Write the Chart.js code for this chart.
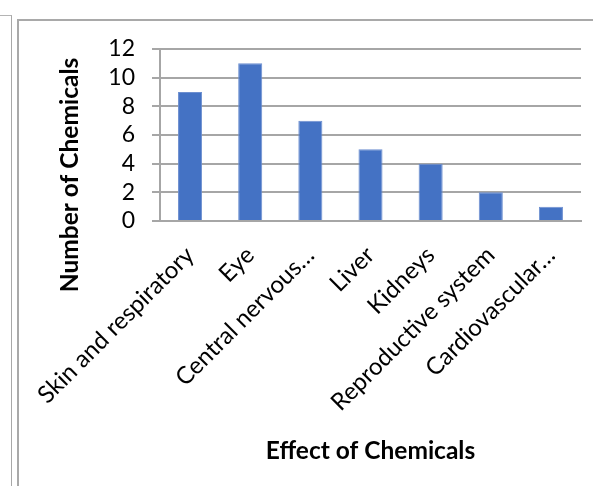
<!DOCTYPE html>
<html>
<head>
<meta charset="utf-8">
<script src="https://cdn.jsdelivr.net/npm/chart.js@4/dist/chart.umd.min.js"></script>
<style>
  html, body { margin: 0; padding: 0; background: #fff; }
  body { width: 593px; height: 486px; position: relative; overflow: hidden; }
  .side-frame { position: absolute; left: -1px; top: 15px; width: 12px; height: 480px;
                border-top: 1px solid #b4b4b4; border-right: 1px solid #a8a8a8; }
  .chart-frame { position: absolute; left: 17px; top: 19px; width: 600px; height: 480px;
                 border-top: 2px solid #a9a9a9; border-left: 2px solid #a9a9a9; }
  #wrap { position: absolute; left: 0; top: 0; width: 593px; height: 486px; }
</style>
</head>
<body>
<div class="side-frame"></div>
<div class="chart-frame"></div>
<div id="wrap"><canvas id="chart"></canvas></div>
<script>
// Effects reported for the chemicals, and how many chemicals show each one
const effects = [
  'Skin and respiratory',
  'Eye',
  'Central nervous…',
  'Liver',
  'Kidneys',
  'Reproductive system',
  'Cardiovascular…'
];
const chemicalCounts = [9, 11, 7, 5, 4, 2, 1];
const yTicks = [0, 2, 4, 6, 8, 10, 12];

const xTitle = 'Effect of Chemicals';
const yTitle = 'Number of Chemicals';

const FONT = 'Lato, "Open Sans", sans-serif';
const GRID = '#a6a6a6';

// Rotated y-axis title, centred against the plot and its category labels
const yTitlePlugin = {
  id: 'yTitle',
  afterDraw(chart) {
    const { ctx, chartArea } = chart;
    ctx.save();
    ctx.translate(chartArea.left - 90, (chartArea.top + chartArea.bottom) / 2 + 40);
    ctx.rotate(-Math.PI / 2);
    ctx.font = 'bold 24.5px ' + FONT;
    ctx.fillStyle = '#000';
    ctx.textAlign = 'center';
    ctx.textBaseline = 'middle';
    ctx.fillText(yTitle, 0, 0);
    ctx.restore();
  }
};

new Chart(document.getElementById('chart'), {
  type: 'bar',
  data: {
    labels: effects,
    datasets: [{
      data: chemicalCounts,
      backgroundColor: '#4472c4',
      borderColor: '#6d8fd0',
      borderWidth: 1,
      barPercentage: 0.4,
      categoryPercentage: 1
    }]
  },
  options: {
    responsive: true,
    maintainAspectRatio: false,
    animation: false,
    layout: { padding: { left: 0, top: 49, right: 12, bottom: 0 } },
    plugins: { legend: { display: false }, tooltip: { enabled: false } },
    scales: {
      x: {
        grid: { display: false },
        border: { display: true, color: GRID, width: 2 },
        ticks: {
          autoSkip: false,
          minRotation: 45,
          maxRotation: 45,
          padding: 12,
          color: '#000',
          font: { family: FONT, size: 24 }
        },
        title: {
          display: true,
          text: xTitle,
          color: '#000',
          font: { family: FONT, size: 24.5, weight: 'bold' },
          padding: { top: 0, bottom: 20 }
        },
        afterFit(scale) { scale.height = 265; }
      },
      y: {
        min: 0,
        max: 12,
        afterBuildTicks(scale) { scale.ticks = yTicks.map(v => ({ value: v })); },
        grid: { color: GRID, lineWidth: 2, tickLength: 8, drawTicks: true },
        border: { display: true, color: GRID, width: 2 },
        ticks: {
          autoSkip: false,
          padding: 17,
          color: '#000',
          font: { family: FONT, size: 23 }
        },
        afterFit(scale) { scale.width = 160; }
      }
    }
  },
  plugins: [yTitlePlugin]
});
</script>
</body>
</html>
